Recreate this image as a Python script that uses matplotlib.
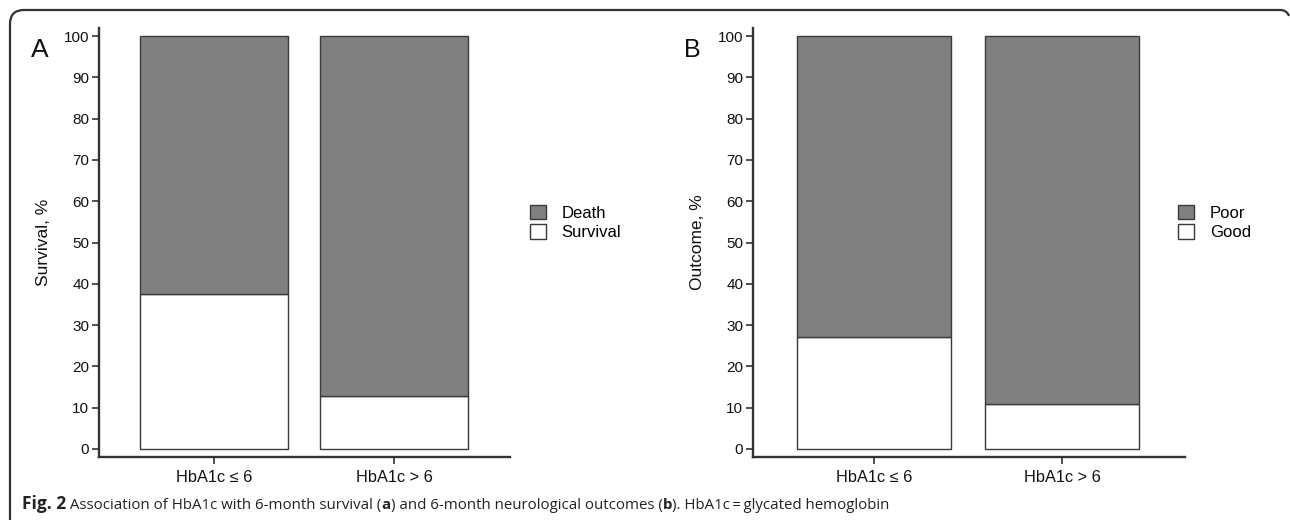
import matplotlib
matplotlib.use("Agg")
import matplotlib.pyplot as plt
from matplotlib.patches import Patch, PathPatch
from matplotlib.path import Path
from matplotlib.transforms import IdentityTransform

# ---- data ----
categories = ["HbA1c \u2264 6", "HbA1c > 6"]
survival = [37.5, 12.8]
death = [62.5, 87.2]
good = [27.2, 10.8]
poor = [72.8, 89.2]
yticks = [0, 10, 20, 30, 40, 50, 60, 70, 80, 90, 100]

W, H = 1290, 520
fig = plt.figure(figsize=(W / 100, H / 100), dpi=100)
plt.rcParams['font.family'] = ['Liberation Sans', 'DejaVu Sans']

GRAY = "#808080"
EDGE = "#3a3a3a"
AX = "#333333"

def fx(x):
    return x / W

def fy(y):
    return 1 - y / H

def make_axes(left, right, top=28, bottom=457):
    return fig.add_axes([fx(left), fy(bottom), fx(right) - fx(left), fy(top) - fy(bottom)])

def panel(ax, lower, upper, ylabel, xlim, width, labels, legend_x):
    x = list(range(len(categories)))
    ax.bar(x, lower, width=width, color="white", edgecolor=EDGE, linewidth=1.0, zorder=2)
    ax.bar(x, upper, bottom=lower, width=width, color=GRAY, edgecolor=EDGE, linewidth=1.0, zorder=2)
    ax.set_xlim(*xlim)
    ax.set_ylim(-1.94, 101.94)
    ax.set_yticks(yticks)
    ax.set_xticks(x)
    ax.set_xticklabels(categories)
    for s in ["top", "right"]:
        ax.spines[s].set_visible(False)
    for s in ["left", "bottom"]:
        ax.spines[s].set_color(AX)
        ax.spines[s].set_linewidth(1.7)
    ax.tick_params(axis="both", direction="out", length=5, width=1.2, color=AX,
                   labelsize=11, labelcolor="#111111", pad=2)
    ax.tick_params(axis="x", pad=4, labelsize=11.8)
    ax.set_ylabel(ylabel, fontsize=12.5, color="#111111", labelpad=9)
    handles = [Patch(facecolor=GRAY, edgecolor=EDGE, linewidth=1.0, label=labels[0]),
               Patch(facecolor="white", edgecolor=EDGE, linewidth=1.0, label=labels[1])]
    fig.legend(handles=handles, loc="upper left", bbox_to_anchor=(fx(legend_x), fy(205)),
               frameon=False, fontsize=12, handlelength=0.95, handleheight=0.95,
               handletextpad=0.95, labelspacing=0.2, borderpad=0, borderaxespad=0)

axA = make_axes(99, 510)
panel(axA, survival, death, "Survival, %", (-0.639, 1.644), 0.82, ["Death", "Survival"], 530)
axB = make_axes(753, 1185)
panel(axB, good, poor, "Outcome, %", (-0.644, 1.654), 0.82, ["Poor", "Good"], 1178)

fig.text(fx(40), fy(50), "A", fontsize=19, ha="center", va="center", color="#111111")
fig.text(fx(692), fy(50), "B", fontsize=18, ha="center", va="center", color="#111111")

# frame: left edge, rounded top-left corner, top edge, small curl at top right (pixel units)
def P(x, y):
    return (x, H - y)

verts = [P(10, 530), P(10, 24), P(10, 10), P(24, 10), P(1280, 10), P(1287, 10), P(1289, 16)]
codes = [Path.MOVETO, Path.LINETO, Path.CURVE3, Path.CURVE3, Path.LINETO, Path.CURVE3, Path.CURVE3]
frame = PathPatch(Path(verts, codes), transform=IdentityTransform(), facecolor="none",
                  edgecolor="#333333", linewidth=1.6, zorder=0, clip_on=False)
fig.patches.append(frame)

# caption with mixed bold pieces
pieces = [("Fig. 2", "bold", 12.5), (" Association of HbA1c with 6-month survival (", "normal", 10.8),
          ("a", "bold", 10.8), (") and 6-month neurological outcomes (", "normal", 10.8),
          ("b", "bold", 10.8), ("). HbA1c\u2009=\u2009glycated hemoglobin", "normal", 10.8)]
fig.canvas.draw()
r = fig.canvas.get_renderer()
xpos = 22
for txt, wt, fs in pieces:
    t = fig.text(fx(xpos), fy(509), txt, fontsize=fs, fontweight=wt,
                 family=["Open Sans", "DejaVu Sans"], ha="left", va="baseline", color="#222222")
    bb = t.get_window_extent(renderer=r)
    xpos += bb.width

fig.savefig("out.png", dpi=100)
